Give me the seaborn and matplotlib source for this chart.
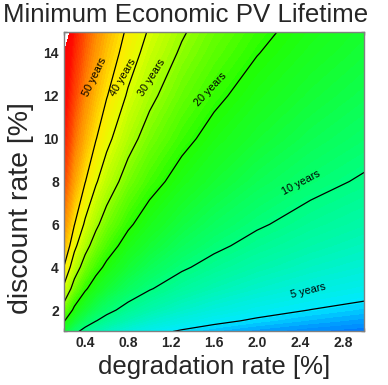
import numpy as np
import matplotlib
matplotlib.use("Agg")
import matplotlib.pyplot as plt
import seaborn as sns
from matplotlib.colors import LinearSegmentedColormap, hsv_to_rgb

# plot style
sns.set_theme(style="ticks")
plt.rcParams['font.family'] = ['Liberation Sans', 'DejaVu Sans']

# degradation rate [%] (columns) and discount rate [%] (rows)
degradation = [0.2, 0.3, 0.4, 0.5, 0.6, 0.8, 1.0, 1.3, 1.6, 2.0, 2.5, 3.0]
discount = [1, 1.5, 2, 3, 4, 5, 6, 8, 10, 12, 14, 15]

# minimum economic lifetime [years], one row per discount rate
# (top-left corner has no finite lifetime -> left blank by the top level)
lifetime = [
    [14.8, 10.9, 8.9, 7.75, 6.97, 5.99, 5.4, 4.86, 4.52, 4.23, 3.99, 3.83],
    [20.7, 14.8, 11.9, 10.1, 8.95, 7.48, 6.6, 5.79, 5.28, 4.84, 4.49, 4.25],
    [26.6, 18.8, 14.9, 12.5, 10.9, 8.98, 7.8, 6.72, 6.04, 5.45, 4.98, 4.67],
    [38.4, 26.7, 20.8, 17.3, 14.9, 12.0, 10.2, 8.57, 7.56, 6.68, 5.97, 5.5],
    [50.2, 34.5, 26.7, 22.0, 18.9, 14.95, 12.6, 10.4, 9.08, 7.9, 6.96, 6.33],
    [62.0, 42.4, 32.6, 26.8, 22.8, 17.9, 15.0, 12.3, 10.6, 9.13, 7.95, 7.17],
    [73.8, 50.3, 38.6, 31.5, 26.8, 20.9, 17.4, 14.1, 12.1, 10.35, 8.94, 8.0],
    [97.4, 66.1, 50.4, 41.0, 34.7, 26.9, 22.2, 17.9, 15.2, 12.8, 10.9, 9.67],
    [121.0, 81.8, 62.3, 50.5, 42.7, 32.9, 27.0, 21.6, 18.2, 15.3, 12.9, 11.3],
    [144.6, 97.6, 74.1, 60.0, 50.6, 38.9, 31.8, 25.3, 21.2, 17.7, 14.9, 13.0],
    [168.2, 113.4, 86.0, 69.5, 58.5, 44.8, 36.6, 29.0, 24.3, 20.2, 16.9, 14.7],
    [260.0, 121.0, 91.9, 74.3, 62.5, 47.8, 39.0, 30.9, 25.8, 21.4, 17.9, 15.5],
]

# labelled contour lines
line_years = [5, 10, 20, 30, 40, 50]

# colour scale: hue (degrees) at given lifetimes
anchor_years = [3.5, 5, 10, 20, 30, 40, 50, 75, 100, 130, 165]
anchor_hue = [222, 185, 150, 112, 85, 67, 55, 32, 15, 3, 0]

lo, hi = np.log10(anchor_years[0]), np.log10(anchor_years[-1])
pos = [(np.log10(a) - lo) / (hi - lo) for a in anchor_years]
cols = [hsv_to_rgb((h / 360.0, 1.0, 1.0)) for h in anchor_hue]
cmap = LinearSegmentedColormap.from_list("pv", list(zip(pos, cols)))

X, Y = np.meshgrid(degradation, discount)
Z = np.log10(np.array(lifetime))

fig, ax = plt.subplots(figsize=(3.88, 3.85), dpi=100)
fig.subplots_adjust(left=0.164, right=0.939, top=0.918, bottom=0.139)

ax.contourf(X, Y, Z, levels=np.linspace(lo, hi, 90), cmap=cmap, vmin=lo, vmax=hi)
ax.contour(X, Y, Z, levels=np.log10(line_years), colors='black', linewidths=0.9)

# contour labels, placed beside the lines
labels = [
    ("50 years", 0.49, 12.9, 64),
    ("40 years", 0.75, 12.85, 60),
    ("30 years", 1.02, 12.85, 58),
    ("20 years", 1.57, 12.3, 47),
    ("10 years", 2.41, 7.95, 28),
    ("5 years", 2.48, 2.9, 14),
]
for txt, lx, ly, rot in labels:
    ax.text(lx, ly, txt, rotation=rot, rotation_mode='anchor', ha='center',
            va='center', fontsize=7.8, color='black')

ax.set_xlim(0.2, 3.0)
ax.set_ylim(1, 15)
ax.set_xticks([0.4, 0.8, 1.2, 1.6, 2.0, 2.4, 2.8])
ax.set_xticks(np.arange(0.2, 3.01, 0.2), minor=True)
ax.set_yticks([2, 4, 6, 8, 10, 12, 14])
ax.set_yticks(np.arange(1, 15.01, 1), minor=True)
ax.set_xticklabels(['0.4', '0.8', '1.2', '1.6', '2.0', '2.4', '2.8'])
ax.tick_params(which='both', direction='in', top=True, right=True, color='0.45',
               labelsize=10)
ax.tick_params(which='major', length=4)
ax.tick_params(which='minor', length=2)
for lab in ax.get_xticklabels() + ax.get_yticklabels():
    lab.set_fontweight('bold')
for sp in ax.spines.values():
    sp.set_color('0.5')
    sp.set_linewidth(1.0)

ax.set_xlabel("degradation rate [%]", fontsize=18.5, labelpad=3)
ax.set_ylabel("discount rate [%]", fontsize=20.5)
ax.yaxis.set_label_coords(-0.1, 0.41)
fig.text(0.948, 0.943, "Minimum Economic PV Lifetime", ha='right', va='baseline',
         fontsize=18.6)

plt.savefig('out.png', dpi=100)
